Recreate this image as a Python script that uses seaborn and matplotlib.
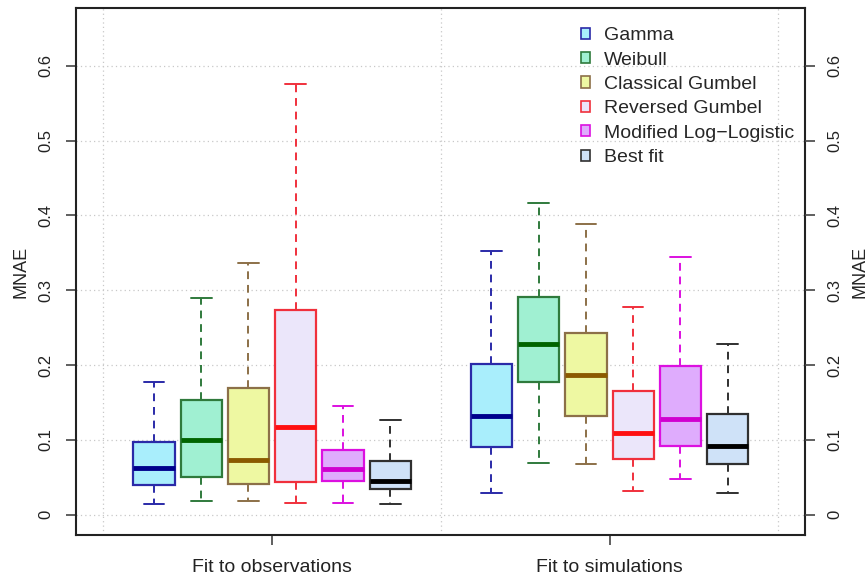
import pandas as pd
import matplotlib
matplotlib.use('Agg')
import matplotlib.pyplot as plt
from matplotlib.patches import Patch
import seaborn as sns

# groups on the x axis and the fitted distributions
groups = ['Fit to observations', 'Fit to simulations']
methods = ['Gamma', 'Weibull', 'Classical Gumbel', 'Reversed Gumbel',
           'Modified Log\u2212Logistic', 'Best fit']

# five-number summaries: min, q1, median, q3, max
obs_gamma = [0.015, 0.040, 0.063, 0.097, 0.177]
obs_weibull = [0.018, 0.050, 0.100, 0.154, 0.290]
obs_gumbel = [0.018, 0.041, 0.073, 0.169, 0.337]
obs_revgumbel = [0.016, 0.044, 0.117, 0.273, 0.575]
obs_modll = [0.016, 0.045, 0.061, 0.086, 0.145]
obs_best = [0.015, 0.034, 0.045, 0.072, 0.127]

sim_gamma = [0.029, 0.091, 0.132, 0.201, 0.352]
sim_weibull = [0.069, 0.177, 0.228, 0.291, 0.416]
sim_gumbel = [0.068, 0.132, 0.187, 0.243, 0.388]
sim_revgumbel = [0.032, 0.074, 0.109, 0.165, 0.278]
sim_modll = [0.048, 0.092, 0.128, 0.199, 0.345]
sim_best = [0.029, 0.068, 0.092, 0.134, 0.228]

obs = [obs_gamma, obs_weibull, obs_gumbel, obs_revgumbel, obs_modll, obs_best]
sim = [sim_gamma, sim_weibull, sim_gumbel, sim_revgumbel, sim_modll, sim_best]

fills = ['#a9eefc', '#a0f0d2', '#eef8a2', '#ebe6fa', '#dfacfd', '#cfe2f8']
edges = ['#2a2aa8', '#2f7a3c', '#8c7048', '#f0303c', '#dc10e0', '#303030']
meds = ['#00008c', '#006400', '#8b5a00', '#ff1010', '#d000d0', '#000000']

# long table: 5 values per box -> quartiles land exactly on the summary values
rows = []
for g, summaries in zip(groups, [obs, sim]):
    for m, vals in zip(methods, summaries):
        for v in vals:
            rows.append({'group': g, 'method': m, 'MNAE': v})
df = pd.DataFrame(rows)

sns.set_style('white')
plt.rcParams['font.family'] = ['Liberation Sans', 'DejaVu Sans']

fig = plt.figure(figsize=(8.68, 5.78), dpi=100)
ax = fig.add_axes([0.0876, 0.0744, 0.8398, 0.9116])

sns.boxplot(data=df, x='group', y='MNAE', hue='method', order=groups,
            hue_order=methods, palette=fills, saturation=1, whis=(0, 100),
            width=0.84, gap=0.13, linewidth=1.5, legend=False, ax=ax, zorder=3)

# recolour each hue level the R way
for i, cont in enumerate(ax.containers):
    for b in cont.boxes:
        b.set_edgecolor(edges[i])
        b.set_linewidth(1.6)
        b.set_zorder(3)
    for w in cont.whiskers:
        w.set_color(edges[i])
        w.set_linestyle((0, (4, 3)))
        w.set_linewidth(1.4)
    for c in cont.caps:
        c.set_color(edges[i])
        c.set_linewidth(1.4)
    for md in cont.medians:
        md.set_color(meds[i])
        md.set_linewidth(3.5)
        md.set_solid_capstyle('butt')

ax.set_xlim(-0.581, 1.579)
ax.set_ylim(-0.027, 0.677)
yt = [0, 0.1, 0.2, 0.3, 0.4, 0.5, 0.6]
ylab = ['0', '0.1', '0.2', '0.3', '0.4', '0.5', '0.6']
ax.set_yticks(yt)
ax.set_yticklabels(ylab, rotation=90, va='center', fontsize=12)
ax.set_xticks([0, 1])
ax.set_xticklabels(groups, fontsize=14)
ax.set_xlabel('')
ax.set_ylabel('MNAE', fontsize=13, labelpad=7)

# dotted grid behind boxes
for y in yt:
    ax.axhline(y, color='#c8c8c8', lw=0.9, ls=(0, (1, 2.5)), zorder=0)
for x in [-0.5, 0.5, 1.5]:
    ax.axvline(x, color='#c8c8c8', lw=0.9, ls=(0, (1, 2.5)), zorder=0)

for s in ax.spines.values():
    s.set_color('#222222')
    s.set_linewidth(1.5)
ax.tick_params(axis='y', direction='out', length=7, width=1.2, color='#444444',
               left=True, pad=9, labelcolor='#222222')
ax.tick_params(axis='x', direction='out', length=7, width=1.2, color='#444444',
               bottom=True, pad=10, labelcolor='#222222')

ax2 = ax.twinx()
ax2.set_ylim(ax.get_ylim())
ax2.set_yticks(yt)
ax2.set_yticklabels(ylab, rotation=90, va='center', fontsize=12)
ax2.set_ylabel('MNAE', fontsize=13, rotation=90, labelpad=7)
ax2.tick_params(axis='y', direction='out', length=7, width=1.2, color='#444444',
                right=True, pad=9, labelcolor='#222222')
for s in ax2.spines.values():
    s.set_visible(False)

handles = [Patch(facecolor=f, edgecolor=e, linewidth=1.2) for f, e in zip(fills, edges)]
ax.legend(handles, methods, loc='upper left', bbox_to_anchor=(0.669, 0.953),
          bbox_transform=fig.transFigure, frameon=False, fontsize=14,
          handlelength=0.5, handleheight=0.5, handletextpad=0.7,
          labelspacing=0.38, borderpad=0, borderaxespad=0)

fig.savefig('out.png', dpi=100)
